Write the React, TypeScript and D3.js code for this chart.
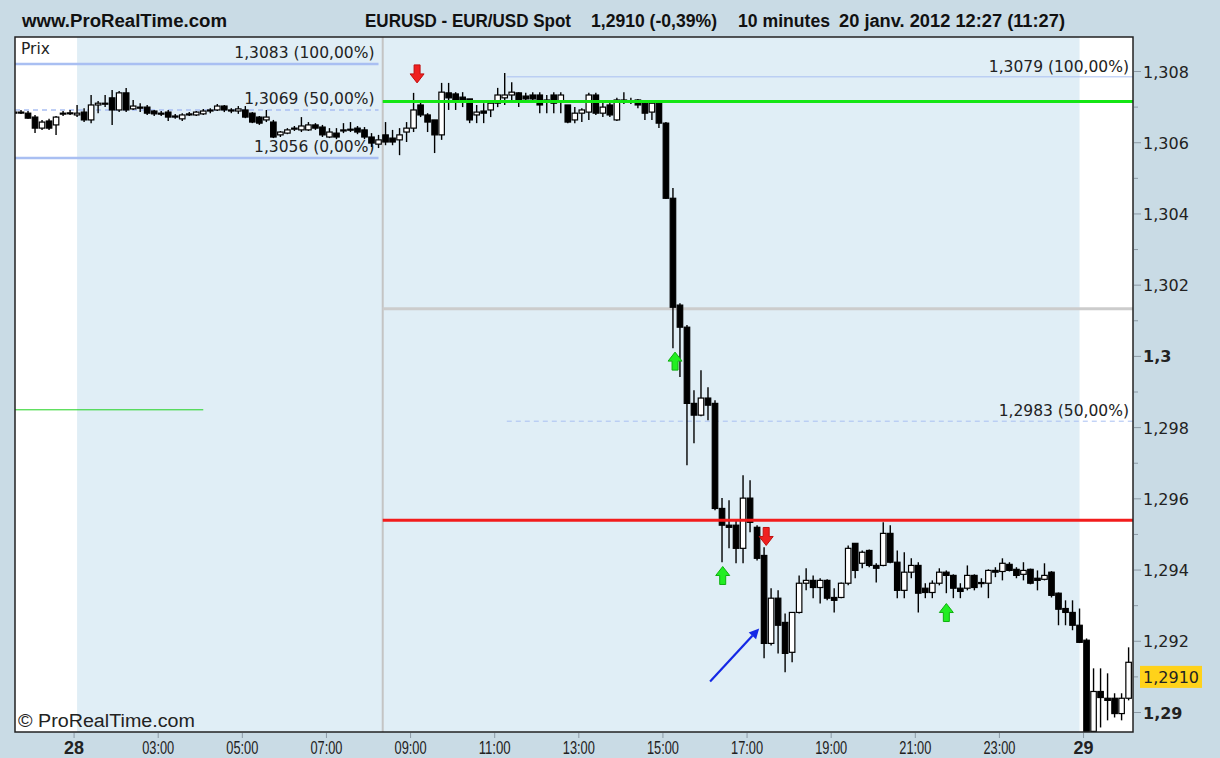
import React from 'react';
import * as d3 from 'd3';

const W = 1220;
const H = 758;

// EUR/USD 10-minute bars (index 0 .. 159)
const opens = [
  1.30686, 1.30686, 1.30683, 1.30672, 1.30641, 1.30661, 1.30650, 1.30681, 1.30683, 1.30678,
  1.30686, 1.30664, 1.30706, 1.30711, 1.30726, 1.30692, 1.30740, 1.30695, 1.30700, 1.30700,
  1.30689, 1.30683, 1.30686, 1.30675, 1.30667, 1.30678, 1.30678, 1.30681, 1.30689, 1.30692,
  1.30703, 1.30692, 1.30689, 1.30692, 1.30683, 1.30672, 1.30664, 1.30658, 1.30622, 1.30627,
  1.30638, 1.30636, 1.30636, 1.30650, 1.30644, 1.30616, 1.30627, 1.30633, 1.30638, 1.30641,
  1.30636, 1.30616, 1.30596, 1.30622, 1.30613, 1.30608, 1.30630, 1.30641, 1.30706, 1.30678,
  1.30664, 1.30622, 1.30740, 1.30737, 1.30728, 1.30723, 1.30678, 1.30689, 1.30692, 1.30711,
  1.30726, 1.30734, 1.30740, 1.30731, 1.30734, 1.30734, 1.30720, 1.30734, 1.30714, 1.30706,
  1.30664, 1.30683, 1.30686, 1.30734, 1.30683, 1.30706, 1.30664, 1.30720, 1.30717, 1.30720,
  1.30711, 1.30686, 1.30711, 1.30655, 1.30444, 1.30144, 1.30082, 1.29868, 1.29835, 1.29883,
  1.29868, 1.29573, 1.29526, 1.29526, 1.29461, 1.29602, 1.29520, 1.29441, 1.29194, 1.29321,
  1.29253, 1.29169, 1.29281, 1.29363, 1.29371, 1.29351, 1.29371, 1.29323, 1.29323, 1.29363,
  1.29475, 1.29419, 1.29455, 1.29413, 1.29413, 1.29503, 1.29422, 1.29343, 1.29394, 1.29413,
  1.29349, 1.29337, 1.29363, 1.29394, 1.29385, 1.29349, 1.29349, 1.29385, 1.29365, 1.29363,
  1.29399, 1.29396, 1.29416, 1.29402, 1.29388, 1.29402, 1.29377, 1.29374, 1.29394, 1.29335,
  1.29292, 1.29281, 1.29245, 1.29203, 1.28947, 1.29059, 1.29040, 1.29040, 1.28997, 1.29040,
];

const highs = [
  1.30692, 1.30692, 1.30689, 1.30678, 1.30664, 1.30667, 1.30675, 1.30689, 1.30692, 1.30706,
  1.30697, 1.30734, 1.30717, 1.30734, 1.30748, 1.30745, 1.30754, 1.30720, 1.30711, 1.30706,
  1.30692, 1.30689, 1.30692, 1.30681, 1.30683, 1.30686, 1.30689, 1.30695, 1.30697, 1.30709,
  1.30706, 1.30697, 1.30703, 1.30703, 1.30686, 1.30675, 1.30692, 1.30664, 1.30633, 1.30641,
  1.30647, 1.30672, 1.30658, 1.30655, 1.30650, 1.30641, 1.30641, 1.30655, 1.30658, 1.30647,
  1.30644, 1.30627, 1.30622, 1.30658, 1.30636, 1.30641, 1.30658, 1.30740, 1.30717, 1.30683,
  1.30664, 1.30768, 1.30768, 1.30742, 1.30742, 1.30723, 1.30706, 1.30711, 1.30720, 1.30754,
  1.30796, 1.30770, 1.30742, 1.30740, 1.30742, 1.30742, 1.30734, 1.30742, 1.30742, 1.30706,
  1.30700, 1.30697, 1.30740, 1.30740, 1.30714, 1.30720, 1.30726, 1.30742, 1.30726, 1.30723,
  1.30720, 1.30720, 1.30720, 1.30658, 1.30473, 1.30149, 1.30088, 1.29905, 1.29961, 1.29913,
  1.29877, 1.29602, 1.29596, 1.29540, 1.29666, 1.29652, 1.29526, 1.29464, 1.29349, 1.29343,
  1.29278, 1.29281, 1.29385, 1.29405, 1.29385, 1.29377, 1.29374, 1.29349, 1.29365, 1.29469,
  1.29475, 1.29455, 1.29458, 1.29419, 1.29534, 1.29526, 1.29455, 1.29450, 1.29433, 1.29422,
  1.29363, 1.29371, 1.29405, 1.29399, 1.29388, 1.29363, 1.29413, 1.29388, 1.29377, 1.29402,
  1.29408, 1.29433, 1.29422, 1.29408, 1.29422, 1.29404, 1.29399, 1.29419, 1.29397, 1.29337,
  1.29315, 1.29315, 1.29292, 1.29208, 1.29124, 1.29124, 1.29110, 1.29054, 1.29054, 1.29183,
];

const lows = [
  1.30678, 1.30681, 1.30667, 1.30627, 1.30636, 1.30636, 1.30622, 1.30675, 1.30678, 1.30672,
  1.30658, 1.30655, 1.30683, 1.30700, 1.30650, 1.30686, 1.30686, 1.30692, 1.30686, 1.30678,
  1.30675, 1.30675, 1.30661, 1.30667, 1.30661, 1.30675, 1.30675, 1.30678, 1.30683, 1.30689,
  1.30686, 1.30683, 1.30681, 1.30669, 1.30655, 1.30650, 1.30658, 1.30613, 1.30616, 1.30624,
  1.30633, 1.30630, 1.30633, 1.30636, 1.30616, 1.30613, 1.30610, 1.30627, 1.30630, 1.30624,
  1.30610, 1.30588, 1.30585, 1.30593, 1.30593, 1.30565, 1.30602, 1.30630, 1.30672, 1.30630,
  1.30571, 1.30608, 1.30692, 1.30692, 1.30700, 1.30655, 1.30655, 1.30655, 1.30672, 1.30700,
  1.30706, 1.30720, 1.30700, 1.30714, 1.30714, 1.30683, 1.30683, 1.30683, 1.30683, 1.30655,
  1.30655, 1.30658, 1.30664, 1.30678, 1.30672, 1.30672, 1.30661, 1.30709, 1.30709, 1.30697,
  1.30664, 1.30664, 1.30641, 1.30442, 1.30023, 1.29942, 1.29694, 1.29756, 1.29832, 1.29821,
  1.29568, 1.29422, 1.29461, 1.29419, 1.29419, 1.29506, 1.29427, 1.29152, 1.29188, 1.29166,
  1.29113, 1.29141, 1.29278, 1.29343, 1.29321, 1.29306, 1.29315, 1.29281, 1.29321, 1.29357,
  1.29377, 1.29405, 1.29408, 1.29365, 1.29411, 1.29419, 1.29321, 1.29321, 1.29377, 1.29281,
  1.29321, 1.29321, 1.29357, 1.29335, 1.29321, 1.29321, 1.29343, 1.29343, 1.29351, 1.29321,
  1.29380, 1.29371, 1.29396, 1.29377, 1.29371, 1.29360, 1.29343, 1.29371, 1.29323, 1.29245,
  1.29245, 1.29231, 1.29195, 1.28941, 1.28941, 1.28958, 1.28978, 1.28986, 1.28978, 1.29034,
];

const closes = [
  1.30683, 1.30685, 1.30669, 1.30641, 1.30658, 1.30641, 1.30672, 1.30683, 1.30684, 1.30683,
  1.30664, 1.30706, 1.30711, 1.30709, 1.30692, 1.30740, 1.30692, 1.30703, 1.30697, 1.30683,
  1.30681, 1.30681, 1.30672, 1.30672, 1.30678, 1.30681, 1.30686, 1.30689, 1.30692, 1.30703,
  1.30692, 1.30689, 1.30695, 1.30672, 1.30658, 1.30655, 1.30672, 1.30616, 1.30630, 1.30636,
  1.30641, 1.30647, 1.30650, 1.30641, 1.30622, 1.30630, 1.30616, 1.30636, 1.30636, 1.30630,
  1.30616, 1.30599, 1.30608, 1.30602, 1.30602, 1.30622, 1.30641, 1.30692, 1.30678, 1.30658,
  1.30622, 1.30742, 1.30726, 1.30720, 1.30717, 1.30664, 1.30686, 1.30683, 1.30711, 1.30734,
  1.30734, 1.30742, 1.30720, 1.30723, 1.30723, 1.30706, 1.30717, 1.30711, 1.30734, 1.30658,
  1.30683, 1.30692, 1.30734, 1.30683, 1.30700, 1.30678, 1.30720, 1.30714, 1.30714, 1.30706,
  1.30683, 1.30711, 1.30655, 1.30444, 1.30138, 1.30082, 1.29868, 1.29835, 1.29883, 1.29863,
  1.29573, 1.29526, 1.29520, 1.29461, 1.29602, 1.29534, 1.29433, 1.29194, 1.29321, 1.29245,
  1.29166, 1.29281, 1.29363, 1.29371, 1.29351, 1.29371, 1.29321, 1.29315, 1.29363, 1.29461,
  1.29399, 1.29450, 1.29413, 1.29405, 1.29503, 1.29422, 1.29343, 1.29394, 1.29413, 1.29335,
  1.29337, 1.29363, 1.29394, 1.29385, 1.29349, 1.29340, 1.29385, 1.29351, 1.29362, 1.29399,
  1.29394, 1.29419, 1.29399, 1.29385, 1.29399, 1.29363, 1.29371, 1.29385, 1.29329, 1.29290,
  1.29281, 1.29245, 1.29197, 1.28947, 1.29059, 1.29042, 1.29034, 1.28997, 1.29040, 1.29141,
];

const xTickIndex = [9, 21, 33, 45, 57, 69, 81, 93, 105, 117, 129, 141, 153];
const xTickLabels = ['28', '03:00', '05:00', '07:00', '09:00', '11:00', '13:00', '15:00', '17:00', '19:00', '21:00', '23:00', '29'];
const xTickBold = [true, false, false, false, false, false, false, false, false, false, false, false, true];

const yTickValues = [1.29, 1.292, 1.294, 1.296, 1.298, 1.3, 1.302, 1.304, 1.306, 1.308];
const yTickLabels = ['1,29', '1,292', '1,294', '1,296', '1,298', '1,3', '1,302', '1,304', '1,306', '1,308'];
const yTickBold = [true, false, false, false, false, true, false, false, false, false];
const yMinorValues = [1.291, 1.293, 1.295, 1.297, 1.299, 1.301, 1.303, 1.305, 1.307];

const lastPrice = 1.291;
const lastPriceLabel = '1,2910';

// horizontal levels
const greenLevel = 1.30716;
const grayLevel = 1.30134;
const redLevel = 1.2954;
const leftGreenLevel = 1.2985;
const levelStartIndex = 52.6;

// Fibonacci (left, first session)
const fibLeftValues = [1.30821, 1.30692, 1.30557];
const fibLeftLabels = ['1,3083 (100,00%)', '1,3069 (50,00%)', '1,3056 (0,00%)'];
const fibLeftDashed = [false, true, false];
const fibLeftEndIndex = 52;
// Fibonacci (right)
const fibRightValues = [1.30785, 1.29818];
const fibRightLabels = ['1,3079 (100,00%)', '1,2983 (50,00%)'];
const fibRightDashed = [false, true];
const fibRightStartIndex = 70.3;

// signal arrows: index, tip price, direction
const arrowIndex = [57.5, 107.3, 94.3, 101.1, 133];
const arrowPrice = [1.30768, 1.29469, 1.30012, 1.2941, 1.29306];
const arrowDir = ['down', 'down', 'up', 'up', 'up'];

// blue hand-drawn arrow
const blueArrowIdx = [99.3, 106.3];
const blueArrowPrice = [1.29087, 1.29236];

export default function App() {
  const plotL = 15, plotR = 1133, plotT = 37, plotB = 732;
  const x = d3.scaleLinear().domain([0, 159]).range([14, 1128.6]);
  const y = d3.scaleLinear().domain([1.29, 1.308]).range([712.5, 71.5]);
  const bodyW = 5.5;
  const outerBg = '#c9dbe5';
  const sessionBg = '#e0eef6';
  const axisFont = 'DejaVu Sans, Verdana, sans-serif';
  const narrowFont = 'Liberation Sans, Arial, sans-serif';

  const candles = opens.map((o, i) => ({ o, h: highs[i], l: lows[i], c: closes[i], i }));

  const arrowPath = (dir: string) => {
    if (dir === 'down') return 'M0,0 L-7,-9 L-3,-9 L-3,-18 L3,-18 L3,-9 L7,-9 Z';
    return 'M0,0 L-7,9 L-3,9 L-3,18 L3,18 L3,9 L7,9 Z';
  };

  const bx0 = x(blueArrowIdx[0]), by0 = y(blueArrowPrice[0]);
  const bx1 = x(blueArrowIdx[1]), by1 = y(blueArrowPrice[1]);
  const ang = Math.atan2(by1 - by0, bx1 - bx0);
  const ah = 10, aw = 5;
  const hx = bx1 - ah * Math.cos(ang), hy = by1 - ah * Math.sin(ang);
  const headPts = [
    [bx1, by1],
    [hx + aw * Math.sin(ang), hy - aw * Math.cos(ang)],
    [hx - aw * Math.sin(ang), hy + aw * Math.cos(ang)],
  ].map(p => p.join(',')).join(' ');

  return (
    <div style={{ position: 'fixed', left: 0, top: 0 }}>
      <svg width={W} height={H} viewBox={`0 0 ${W} ${H}`} style={{ display: 'block' }}>
        <defs>
          <clipPath id="plotClip">
            <rect x={plotL} y={plotT} width={plotR - plotL} height={plotB - plotT} />
          </clipPath>
        </defs>
        <rect x={0} y={0} width={W} height={H} fill={outerBg} />

        {/* title bar */}
        <text x={22} y={27} fontFamily={narrowFont} fontWeight="bold" fontSize={18} textLength={205} lengthAdjust="spacingAndGlyphs" fill="#111">www.ProRealTime.com</text>
        <text x={365} y={27} fontFamily={narrowFont} fontWeight="bold" fontSize={18} textLength={206} lengthAdjust="spacingAndGlyphs" fill="#111">EURUSD - EUR/USD Spot</text>
        <text x={591} y={27} fontFamily={narrowFont} fontWeight="bold" fontSize={18} textLength={126} lengthAdjust="spacingAndGlyphs" fill="#111">1,2910 (-0,39%)</text>
        <text x={738} y={27} fontFamily={narrowFont} fontWeight="bold" fontSize={18} textLength={92} lengthAdjust="spacingAndGlyphs" fill="#111">10 minutes</text>
        <text x={839} y={27} fontFamily={narrowFont} fontWeight="bold" fontSize={18} textLength={226} lengthAdjust="spacingAndGlyphs" fill="#111">20 janv. 2012 12:27 (11:27)</text>

        {/* plot background */}
        <rect x={plotL} y={plotT} width={plotR - plotL} height={plotB - plotT} fill="#ffffff" />
        <rect x={x(9)} y={plotT} width={x(152) - x(9)} height={plotB - plotT} fill={sessionBg} />

        <g clipPath="url(#plotClip)">
          {/* session separator */}
          <line x1={x(levelStartIndex)} x2={x(levelStartIndex)} y1={plotT} y2={plotB} stroke="#c4c4c4" strokeWidth={2} />

          {/* left fibonacci */}
          {fibLeftValues.map((v, k) => (
            <g key={'fl' + k}>
              <line x1={plotL} x2={x(fibLeftEndIndex)} y1={y(v)} y2={y(v)}
                stroke="#a9bff2" strokeWidth={fibLeftDashed[k] ? 1.5 : 2.5}
                strokeDasharray={fibLeftDashed[k] ? '5,4' : undefined} />
              <text x={x(fibLeftEndIndex) - 4} y={y(v) - 6} textAnchor="end" fontFamily={axisFont} fontSize={15.5} fill="#222">{fibLeftLabels[k]}</text>
            </g>
          ))}

          {/* right fibonacci */}
          {fibRightValues.map((v, k) => (
            <g key={'fr' + k}>
              <line x1={x(fibRightStartIndex)} x2={plotR} y1={y(v)} y2={y(v)}
                stroke="#a9bff2" strokeWidth={1}
                strokeDasharray={fibRightDashed[k] ? '5,4' : undefined} />
              <text x={plotR - 4} y={y(v) - 5} textAnchor="end" fontFamily={axisFont} fontSize={15.5} fill="#222">{fibRightLabels[k]}</text>
            </g>
          ))}

          {/* horizontal levels */}
          <line x1={plotL} x2={x(27)} y1={y(leftGreenLevel)} y2={y(leftGreenLevel)} stroke="#1ed21e" strokeWidth={1} />
          <line x1={x(levelStartIndex)} x2={plotR} y1={y(grayLevel)} y2={y(grayLevel)} stroke="#cccccc" strokeWidth={3} />

          {/* candles */}
          {candles.map(d => {
            const cx = x(d.i);
            const top = y(Math.max(d.o, d.c));
            const bot = y(Math.min(d.o, d.c));
            const bear = d.c < d.o;
            return (
              <g key={d.i}>
                <line x1={cx} x2={cx} y1={y(d.h)} y2={y(d.l)} stroke="#000" strokeWidth={1.4} />
                <rect x={cx - bodyW / 2} y={top} width={bodyW} height={Math.max(1, bot - top)}
                  fill={bear ? '#000' : '#fff'} stroke="#000" strokeWidth={1.2} />
              </g>
            );
          })}

          <line x1={x(levelStartIndex)} x2={plotR} y1={y(greenLevel)} y2={y(greenLevel)} stroke="#14e614" strokeWidth={3} />
          <line x1={x(levelStartIndex)} x2={plotR} y1={y(redLevel)} y2={y(redLevel)} stroke="#f21c1c" strokeWidth={3} />

          {/* signal arrows */}
          {arrowIndex.map((ai, k) => (
            <path key={'ar' + k} d={arrowPath(arrowDir[k])}
              transform={`translate(${x(ai)},${y(arrowPrice[k])})`}
              fill={arrowDir[k] === 'down' ? '#f02020' : '#22ee22'}
              stroke={arrowDir[k] === 'down' ? '#c01010' : '#10b010'} strokeWidth={1} />
          ))}

          {/* blue arrow */}
          <line x1={bx0} y1={by0} x2={hx} y2={hy} stroke="#1428e6" strokeWidth={2.2} />
          <polygon points={headPts} fill="#1428e6" />
        </g>

        {/* plot frame */}
        <rect x={plotL} y={plotT} width={plotR - plotL} height={plotB - plotT} fill="none" stroke="#222" strokeWidth={1.5} />

        <text x={21} y={54} fontFamily={axisFont} fontSize={15.5} fill="#222">Prix</text>
        <text x={18} y={727} fontFamily={narrowFont} fontSize={18} textLength={177} lengthAdjust="spacingAndGlyphs" fill="#222">© ProRealTime.com</text>

        {/* y axis */}
        {yMinorValues.map((v, k) => (
          <line key={'ym' + k} x1={plotR + 1} x2={plotR + 5} y1={y(v)} y2={y(v)} stroke="#8c9aa6" strokeWidth={1} />
        ))}
        {yTickValues.map((v, k) => (
          <g key={'yt' + k}>
            <line x1={plotR + 1} x2={plotR + 8} y1={y(v)} y2={y(v)} stroke="#8c9aa6" strokeWidth={1} />
            <text x={1143} y={y(v) + 6} fontFamily={axisFont} fontSize={16} fontWeight={yTickBold[k] ? 'bold' : 'normal'} fill="#222">{yTickLabels[k]}</text>
          </g>
        ))}
        <rect x={1140} y={y(lastPrice) - 11} width={62} height={22} fill="#ffd21a" />
        <text x={1143} y={y(lastPrice) + 6} fontFamily={axisFont} fontSize={16} fill="#222">{lastPriceLabel}</text>

        {/* x axis */}
        {xTickIndex.map((ti, k) => (
          <g key={'xt' + k}>
            <line x1={x(ti) - 3} x2={x(ti) - 3} y1={plotB + 1} y2={plotB + 6} stroke="#8c9aa6" strokeWidth={1} />
            <text x={x(ti) - 3} y={753.5} textAnchor="middle" fontFamily={narrowFont} fontSize={19}
              fontWeight={xTickBold[k] ? 'bold' : 'normal'}
              textLength={xTickBold[k] ? 20 : 32} lengthAdjust="spacingAndGlyphs" fill="#222">{xTickLabels[k]}</text>
          </g>
        ))}
      </svg>
    </div>
  );
}
